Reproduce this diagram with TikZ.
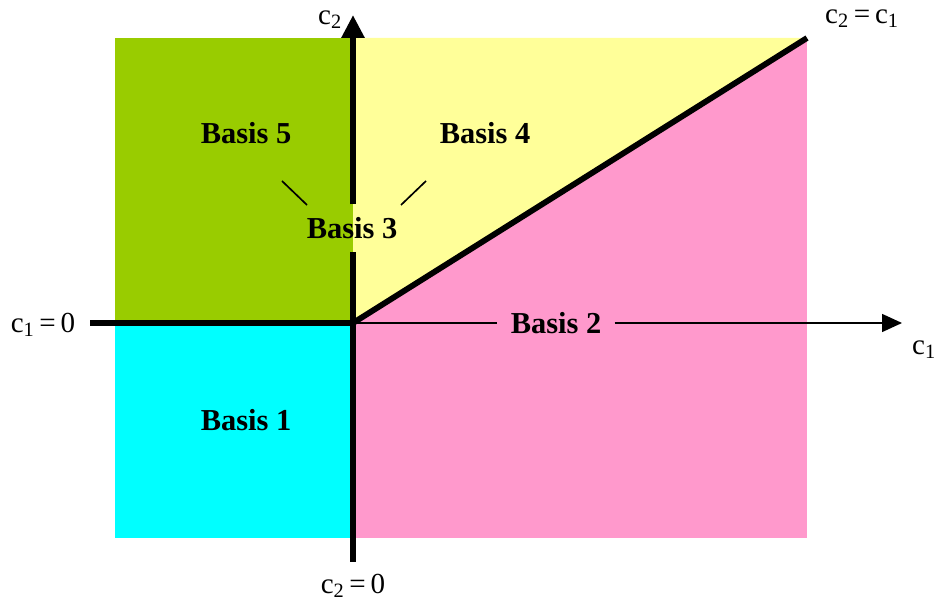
\documentclass[tikz,border=0pt]{standalone}
\usepackage{fontspec}
\setmainfont{Liberation Serif}
\usetikzlibrary{arrows.meta}

\definecolor{basisgreen}{HTML}{99CC00}
\definecolor{basisyellow}{HTML}{FFFF99}
\definecolor{basispink}{HTML}{FF99CC}
\definecolor{basiscyan}{HTML}{00FFFF}

\begin{document}
\begin{tikzpicture}[x=1in,y=1in,
  basis/.style={font=\fontsize{22}{26}\selectfont\bfseries, inner sep=0.13in},
  axislabel/.style={font=\fontsize{21}{25}\selectfont, inner sep=0pt},
  heavy/.style={line width=4.2pt}]
\useasboundingbox (0,0) rectangle (9.3700,6.0300);
\coordinate (o) at (3.5300,2.8000);
% regions
\fill[basisgreen] (1.1500,2.8000) rectangle (3.5300,5.6500);
\fill[basiscyan] (1.1500,0.6500) rectangle (3.5300,2.8000);
\fill[basispink] (3.5300,0.6500) rectangle (8.0700,5.6500);
\fill[basisyellow] (3.5300,2.8000) -- (3.5300,5.6500) -- (8.0700,5.6500) -- cycle;
% labels
\node[basis] (b5) at (2.4600,4.7000) {Basis 5};
\node[basis] (b4) at (4.8500,4.7000) {Basis 4};
\node[basis] (b3) at (3.5200,3.7500) {Basis 3};
\node[basis] (b2) at (5.5600,2.8000) {Basis 2};
\node[basis] (b1) at (2.4600,1.8300) {Basis 1};
\coordinate (c2top) at (3.5300,5.8800);
\coordinate (c2bot) at (3.5300,0.4100);
\coordinate (c1left) at (0.9000,2.8000);
\coordinate (c1tip) at (9.0200,2.8000);
\coordinate (diag) at (8.0700,5.6500);
% axes
\draw[heavy] (o) -- (c1left);
\draw[heavy] (c2bot) -- (b3.south -| o);
\draw[heavy, -{Triangle[length=0.23in, width=0.22in]}] (b3.north -| o) -- (c2top);
\draw[heavy] (o) -- (diag);
\draw[line width=1.1pt] (o) -- (b2.west);
\draw[line width=1.1pt, -{Triangle[length=0.2in, width=0.18in]}] (b2.east) -- (c1tip);
% pointers to basis 3
\coordinate (p5a) at (2.8200,4.2200);
\coordinate (p5b) at (3.0700,3.9800);
\coordinate (p4a) at (4.2600,4.2200);
\coordinate (p4b) at (4.0100,3.9800);
\draw[line width=1.2pt] (p5a) -- (p5b);
\draw[line width=1.2pt] (p4a) -- (p4b);
% axis names
\node[axislabel] (l2) at (3.3000,5.8300) {c\textsubscript{2}};
\node[axislabel] (l21) at (8.6200,5.8400) {c\textsubscript{2}\,=\,c\textsubscript{1}};
\node[axislabel] (l10) at (0.4300,2.7800) {c\textsubscript{1}\,=\,0};
\node[axislabel] (l1) at (9.2400,2.5300) {c\textsubscript{1}};
\node[axislabel] (l20) at (3.5300,0.1700) {c\textsubscript{2}\,=\,0};
\end{tikzpicture}
\end{document}
